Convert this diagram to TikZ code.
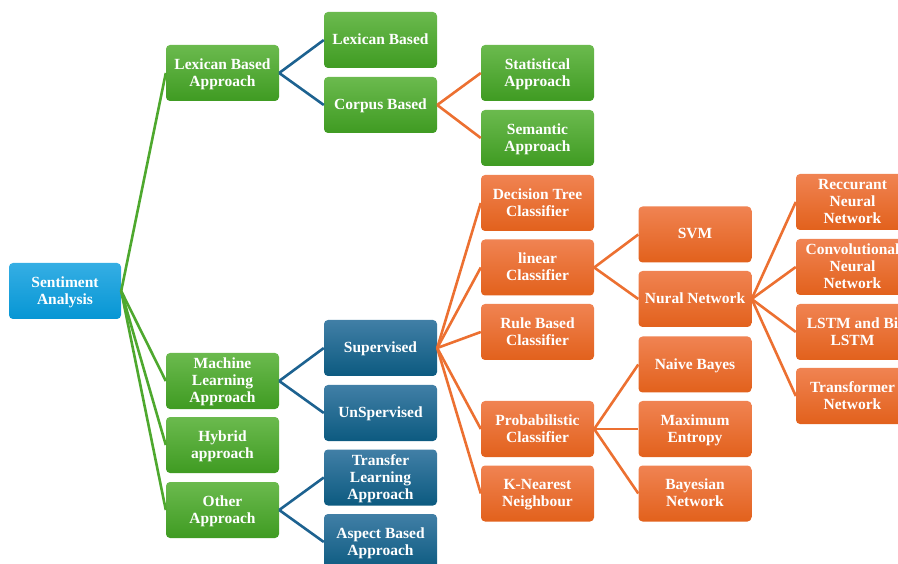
\documentclass[tikz,border=0pt]{standalone}
\usepackage{fontspec}
\setmainfont{Liberation Serif}
\begin{document}
\begin{tikzpicture}[x=1pt,y=-1pt,
  box/.style={rounded corners=4pt, minimum width=113pt, minimum height=56pt,
    inner sep=2pt, align=center, text=white, text depth=1.5pt,
    font=\fontsize{15.5}{17}\selectfont\bfseries},
  rootbox/.style={box, minimum width=112pt, top color=rootTop, bottom color=rootBot},
  greenbox/.style={box, top color=greenTop, bottom color=greenBot},
  bluebox/.style={box, top color=blueTop, bottom color=blueBot},
  orangebox/.style={box, top color=orangeTop, bottom color=orangeBot},
  link/.style={line width=2.6pt},
  glink/.style={link, draw=greenLine},
  blink/.style={link, draw=blueLine},
  olink/.style={link, draw=orangeLine}]
\definecolor{rootTop}{HTML}{35AEE4}
\definecolor{rootBot}{HTML}{0696D4}
\definecolor{greenTop}{HTML}{6BBA4E}
\definecolor{greenBot}{HTML}{3F9B22}
\definecolor{blueTop}{HTML}{417FA6}
\definecolor{blueBot}{HTML}{0C5A80}
\definecolor{orangeTop}{HTML}{F08352}
\definecolor{orangeBot}{HTML}{E2611C}
\definecolor{greenLine}{HTML}{4EA82E}
\definecolor{blueLine}{HTML}{1D6290}
\definecolor{orangeLine}{HTML}{EC7031}

\useasboundingbox (0,0) rectangle (898,564);
\clip (0,0) rectangle (898,564);

% root
\node[rootbox] (sa) at (65,291) {Sentiment\\Analysis};

% approaches
\node[greenbox] (lex) at (222.5,73) {Lexican Based\\Approach};
\node[greenbox] (ml)  at (222.5,381) {Machine\\Learning\\Approach};
\node[greenbox] (hyb) at (222.5,445) {Hybrid\\approach};
\node[greenbox] (oth) at (222.5,510) {Other\\Approach};

% third level
\node[greenbox] (lb)  at (380.5,40) {Lexican Based};
\node[greenbox] (cb)  at (380.5,105) {Corpus Based};
\node[bluebox]  (sup) at (380.5,348) {Supervised};
\node[bluebox]  (uns) at (380.5,413) {UnSpervised};
\node[bluebox]  (tl)  at (380.5,477.5) {Transfer\\Learning\\Approach};
\node[bluebox]  (ab)  at (380.5,542) {Aspect Based\\Approach};

% fourth level
\node[greenbox]  (st) at (537.5,73) {Statistical\\Approach};
\node[greenbox]  (se) at (537.5,138) {Semantic\\Approach};
\node[orangebox] (dt) at (537.5,203) {Decision Tree\\Classifier};
\node[orangebox] (lc) at (537.5,267.5) {linear\\Classifier};
\node[orangebox] (rb) at (537.5,332) {Rule Based\\Classifier};
\node[orangebox] (pc) at (537.5,429) {Probabilistic\\Classifier};
\node[orangebox] (kn) at (537.5,493.5) {K-Nearest\\Neighbour};

% fifth level
\node[orangebox] (svm) at (695,234.5) {SVM};
\node[orangebox] (nn)  at (695,299) {Nural Network};
\node[orangebox] (nb)  at (695,364.5) {Naive Bayes};
\node[orangebox] (me)  at (695,429) {Maximum\\Entropy};
\node[orangebox] (bn)  at (695,493.5) {Bayesian\\Network};

% sixth level
\node[orangebox] (rnn)  at (852.5,202) {Reccurant\\Neural\\Network};
\node[orangebox] (cnn)  at (852.5,267) {Convolutional\\Neural\\Network};
\node[orangebox] (lstm) at (852.5,332) {LSTM and Bi\\LSTM};
\node[orangebox] (trn)  at (852.5,396) {Transformer\\Network};

% connectors
\foreach \c in {lex,ml,hyb,oth} \draw[glink] (sa.east) -- (\c.west);
\foreach \c in {lb,cb} \draw[blink] (lex.east) -- (\c.west);
\foreach \c in {sup,uns} \draw[blink] (ml.east) -- (\c.west);
\foreach \c in {tl,ab} \draw[blink] (oth.east) -- (\c.west);
\foreach \c in {st,se} \draw[olink] (cb.east) -- (\c.west);
\foreach \c in {dt,lc,rb,pc,kn} \draw[olink] (sup.east) -- (\c.west);
\foreach \c in {svm,nn} \draw[olink] (lc.east) -- (\c.west);
\foreach \c in {nb,me,bn} \draw[olink] (pc.east) -- (\c.west);
\foreach \c in {rnn,cnn,lstm,trn} \draw[olink] (nn.east) -- (\c.west);
\end{tikzpicture}
\end{document}
